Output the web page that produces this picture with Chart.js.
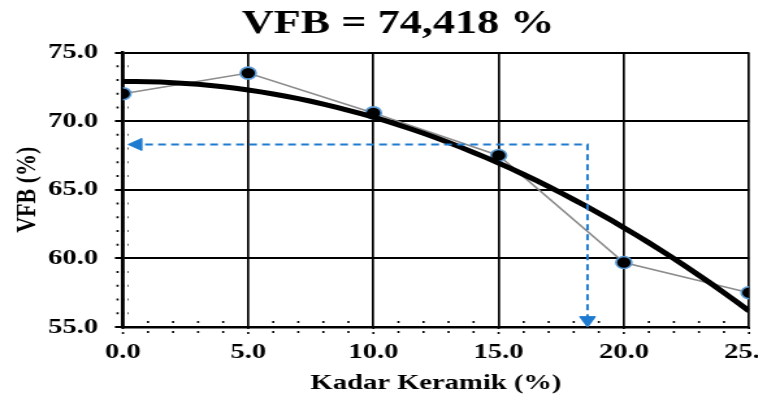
<!DOCTYPE html>
<html>
<head>
<meta charset="utf-8">
<script src="https://cdn.jsdelivr.net/npm/chart.js@4.4.1/dist/chart.umd.min.js"></script>
<style>
  html, body { margin: 0; padding: 0; background: #fff; width: 758px; height: 399px; overflow: hidden; }
  /* the chart is laid out narrow and widened horizontally */
  #wrap { position: absolute; left: 0; top: 0; width: 620px; height: 399px; transform: scaleX(1.3); transform-origin: 0 0; }
</style>
</head>
<body>
<div id="wrap"><canvas id="chart"></canvas></div>
<script>
// Measured VFB against ceramic content
const kadarKeramik = [0, 5, 10, 15, 20, 25];
const vfb = [72.0, 73.5, 70.6, 67.5, 59.7, 57.5];

// Axis ticks
const xTickValues = [0, 5, 10, 15, 20, 25];
const yTickValues = [55, 60, 65, 70, 75];

const guideKadar = 18.55;
const guideVfb = 68.3;

const chartTitle = 'VFB = 74,418 %';
const xTitle = 'Kadar Keramik (%)';
const yTitle = 'VFB (%)';

// Second-order least-squares trend of the measured points
function quadFit(xs, ys) {
  const s = [0, 0, 0, 0, 0], t = [0, 0, 0];
  xs.forEach((x, i) => {
    for (let k = 0; k < 5; k++) s[k] += Math.pow(x, k);
    for (let k = 0; k < 3; k++) t[k] += Math.pow(x, k) * ys[i];
  });
  const m = [[s[0], s[1], s[2], t[0]], [s[1], s[2], s[3], t[1]], [s[2], s[3], s[4], t[2]]];
  for (let c = 0; c < 3; c++) {
    for (let r = c + 1; r < 3; r++) {
      const f = m[r][c] / m[c][c];
      for (let k = c; k < 4; k++) m[r][k] -= f * m[c][k];
    }
  }
  const a = [0, 0, 0];
  for (let r = 2; r >= 0; r--) {
    let v = m[r][3];
    for (let k = r + 1; k < 3; k++) v -= m[r][k] * a[k];
    a[r] = v / m[r][r];
  }
  return x => a[0] + a[1] * x + a[2] * x * x;
}
const trend = quadFit(kadarKeramik, vfb);
const trendPoints = [];
for (let x = kadarKeramik[0]; x <= kadarKeramik[kadarKeramik.length - 1] + 1e-9; x += 0.5) {
  trendPoints.push({ x: x, y: trend(x) });
}

const measured = kadarKeramik.map((x, i) => ({ x: x, y: vfb[i] }));
const guidePath = [
  { x: guideKadar, y: 55.5 },
  { x: guideKadar, y: guideVfb },
  { x: 0.57, y: guideVfb }
];
const guideHeads = [
  { x: 0.57, y: guideVfb },
  { x: guideKadar, y: 55.5 }
];

const serif = "'Liberation Serif', 'Times New Roman', serif";

// Dotted minor tick marks every 1 unit on both axes
const minorTicks = {
  id: 'minorTicks',
  beforeDatasetsDraw(chart) {
    const { ctx, scales: { x, y } } = chart;
    ctx.save();
    ctx.strokeStyle = '#000';
    ctx.setLineDash([1.6, 2.6]);
    ctx.lineWidth = 2;
    const ax = x.getPixelForValue(0);
    for (let v = 56; v < 75; v++) {
      if (v % 5 === 0) continue;
      const py = y.getPixelForValue(v);
      ctx.beginPath();
      ctx.moveTo(ax - 5, py);
      ctx.lineTo(ax + 4, py);
      ctx.stroke();
    }
    const ay = y.getPixelForValue(55);
    ctx.lineWidth = 1.6;
    ctx.setLineDash([2, 3]);
    for (let v = 0; v <= 25; v++) {
      const px = x.getPixelForValue(v);
      ctx.beginPath();
      ctx.moveTo(px, v % 5 === 0 ? ay : ay - 6);
      ctx.lineTo(px, ay + 8);
      ctx.stroke();
    }
    ctx.restore();
  }
};

new Chart(document.getElementById('chart'), {
  type: 'line',
  data: {
    datasets: [
      {
        label: 'Trend',
        data: trendPoints,
        borderColor: '#000',
        borderWidth: 5,
        pointRadius: 0,
        tension: 0,
        order: 1
      },
      {
        label: 'VFB',
        data: measured,
        borderColor: '#8c8c8c',
        borderWidth: 1.6,
        pointRadius: 6,
        pointBackgroundColor: '#000',
        pointBorderColor: '#5b9bd5',
        pointBorderWidth: 1.6,
        tension: 0,
        order: 2
      },
      {
        label: 'Guide',
        data: guidePath,
        borderColor: '#1f7bd0',
        borderWidth: 2,
        borderDash: [6, 4],
        pointRadius: 0,
        tension: 0,
        order: 0
      },
      {
        label: 'Guide heads',
        data: guideHeads,
        showLine: false,
        pointStyle: 'triangle',
        pointRadius: 7,
        pointRotation: [-90, 180],
        pointBackgroundColor: '#1f7bd0',
        pointBorderColor: '#1f7bd0',
        pointBorderWidth: 1,
        order: 0
      }
    ]
  },
  options: {
    responsive: true,
    maintainAspectRatio: false,
    animation: false,
    events: [],
    layout: { padding: { left: 36.2, right: 43.8, top: 0, bottom: 0 } },
    plugins: {
      legend: { display: false },
      tooltip: { enabled: false },
      title: {
        display: true,
        text: chartTitle,
        color: '#000',
        font: { family: serif, size: 34, weight: 'bold', lineHeight: 1.2 },
        padding: { top: 3.6, bottom: 8.1 }
      }
    },
    scales: {
      x: {
        type: 'linear',
        min: 0,
        max: 25,
        afterFit(scale) { scale.height = 72; },
        afterBuildTicks(scale) { scale.ticks = xTickValues.map(v => ({ value: v })); },
        ticks: {
          color: '#000',
          padding: 12,
          font: { family: serif, size: 22, weight: 'bold', lineHeight: 1.2 },
          callback: v => Number(v).toFixed(1),
          maxRotation: 0
        },
        grid: { color: '#000', lineWidth: 1.7, drawTicks: false },
        border: { color: '#000', width: 2.5 },
        title: {
          display: true,
          text: xTitle,
          color: '#000',
          font: { family: serif, size: 22, weight: 'bold', lineHeight: 1.2 },
          padding: { top: 0, bottom: 2 }
        }
      },
      y: {
        type: 'linear',
        min: 55,
        max: 75,
        afterFit(scale) { scale.width = 58.4; },
        afterBuildTicks(scale) { scale.ticks = yTickValues.map(v => ({ value: v })); },
        ticks: {
          color: '#000',
          padding: 13,
          font: { family: serif, size: 22, weight: 'bold', lineHeight: 1.2 },
          callback: v => Number(v).toFixed(1)
        },
        grid: { color: '#000', lineWidth: 2, tickLength: 6.2 },
        border: { color: '#000', width: 2.5 },
        title: {
          display: true,
          text: yTitle,
          color: '#000',
          font: { family: serif, size: 22, weight: 'bold', lineHeight: 1.2 },
          padding: { top: -27.9, bottom: 0 }
        }
      }
    }
  },
  plugins: [minorTicks]
});
</script>
</body>
</html>
